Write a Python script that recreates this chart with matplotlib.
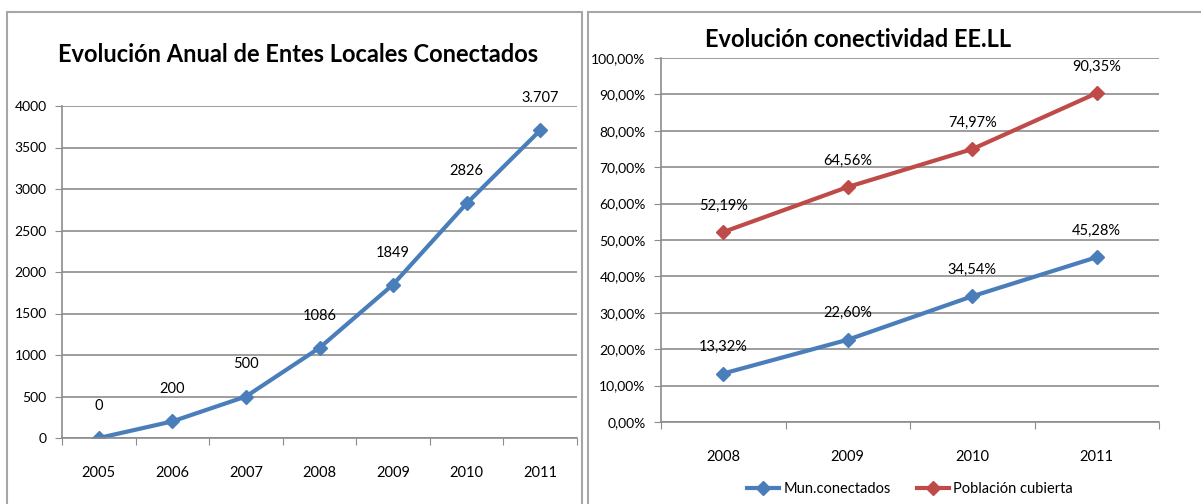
import numpy as np
import matplotlib
matplotlib.use("Agg")
import matplotlib.pyplot as plt
from matplotlib.patches import Rectangle

plt.rcParams['font.family'] = ['Lato', 'DejaVu Sans']

# left chart data
years_l = ['2005', '2006', '2007', '2008', '2009', '2010', '2011']
entes = [0, 200, 500, 1086, 1849, 2826, 3707]
entes_lbl = ['0', '200', '500', '1086', '1849', '2826', '3.707']

# right chart data
years_r = ['2008', '2009', '2010', '2011']
mun = [13.32, 22.60, 34.54, 45.28]
pob = [52.19, 64.56, 74.97, 90.35]

blue = '#4A7EBB'
red = '#BE4B48'
grid_c = '#8C8C8C'

fig = plt.figure(figsize=(12.01, 5.04), dpi=100)

# panel frames
fig.patches.append(Rectangle((7/1201, -0.05), 575/1201, 1 - 12/504 + 0.05,
                             transform=fig.transFigure, fill=False,
                             edgecolor='#A6A6A6', lw=1.5))
fig.patches.append(Rectangle((588/1201, -0.05), 0.6, 1 - 12/504 + 0.05,
                             transform=fig.transFigure, fill=False,
                             edgecolor='#A6A6A6', lw=1.5))


def style_axes(ax, n):
    ax.set_xlim(-0.5, n - 0.5)
    ax.set_xticks(np.arange(n + 1) - 0.5)
    ax.set_xticklabels([])
    ax.set_xticks(np.arange(n), minor=True)
    ax.tick_params(axis='x', which='major', length=5, color=grid_c, direction='out')
    ax.tick_params(axis='x', which='minor', length=0, pad=20, labelsize=10.5)
    ax.tick_params(axis='y', length=5, color=grid_c, labelsize=10, pad=6)
    for s in ['top', 'right']:
        ax.spines[s].set_visible(False)
    for s in ['left', 'bottom']:
        ax.spines[s].set_color(grid_c)
        ax.spines[s].set_linewidth(1.2)
    ax.grid(axis='y', color=grid_c, lw=1.2)
    ax.set_axisbelow(True)


# left chart
ax1 = fig.add_axes([62/1201, 1 - 438/504, (577 - 62)/1201, (438 - 106)/504])
x1 = np.arange(len(years_l))
ax1.plot(x1, entes, color=blue, lw=3, marker='D', ms=7)
ax1.set_ylim(0, 4000)
ax1.set_yticks(np.arange(0, 4001, 500))
style_axes(ax1, len(years_l))
ax1.set_xticklabels(years_l, minor=True)
for xi, v, t in zip(x1, entes, entes_lbl):
    ax1.annotate(t, (xi, v), xytext=(0, 18), textcoords='offset points',
                 ha='center', va='bottom', fontsize=10.5)
fig.text(298/1201, 1 - 55/504, 'Evolución Anual de Entes Locales Conectados',
         ha='center', va='center', fontsize=17, fontweight='bold')

# right chart
ax2 = fig.add_axes([661/1201, 1 - 422/504, (1159 - 661)/1201, (422 - 58)/504])
x2 = np.arange(len(years_r))
ax2.plot(x2, mun, color=blue, lw=3, marker='D', ms=7, label='Mun.conectados')
ax2.plot(x2, pob, color=red, lw=3, marker='D', ms=7, label='Población cubierta')
ax2.set_ylim(0, 100)
ax2.set_yticks(np.arange(0, 101, 10))
ax2.set_yticklabels([f'{v},00%' for v in range(0, 101, 10)])
style_axes(ax2, len(years_r))
ax2.set_xticklabels(years_r, minor=True)
for xi, v in zip(x2, mun):
    ax2.annotate(f'{v:.2f}%'.replace('.', ','), (xi, v), xytext=(0, 14),
                 textcoords='offset points', ha='center', va='bottom', fontsize=10.5)
for xi, v in zip(x2, pob):
    ax2.annotate(f'{v:.2f}%'.replace('.', ','), (xi, v), xytext=(0, 14),
                 textcoords='offset points', ha='center', va='bottom', fontsize=10.5)
ax2.legend(loc='upper center', bbox_to_anchor=(0.5, -0.13), ncol=2, frameon=False,
           fontsize=10.5, handlelength=2.2, handletextpad=0.3, columnspacing=1.8)
fig.text(858/1201, 1 - 40/504, 'Evolución conectividad EE.LL',
         ha='center', va='center', fontsize=17, fontweight='bold')

fig.savefig('out.png', dpi=100)
